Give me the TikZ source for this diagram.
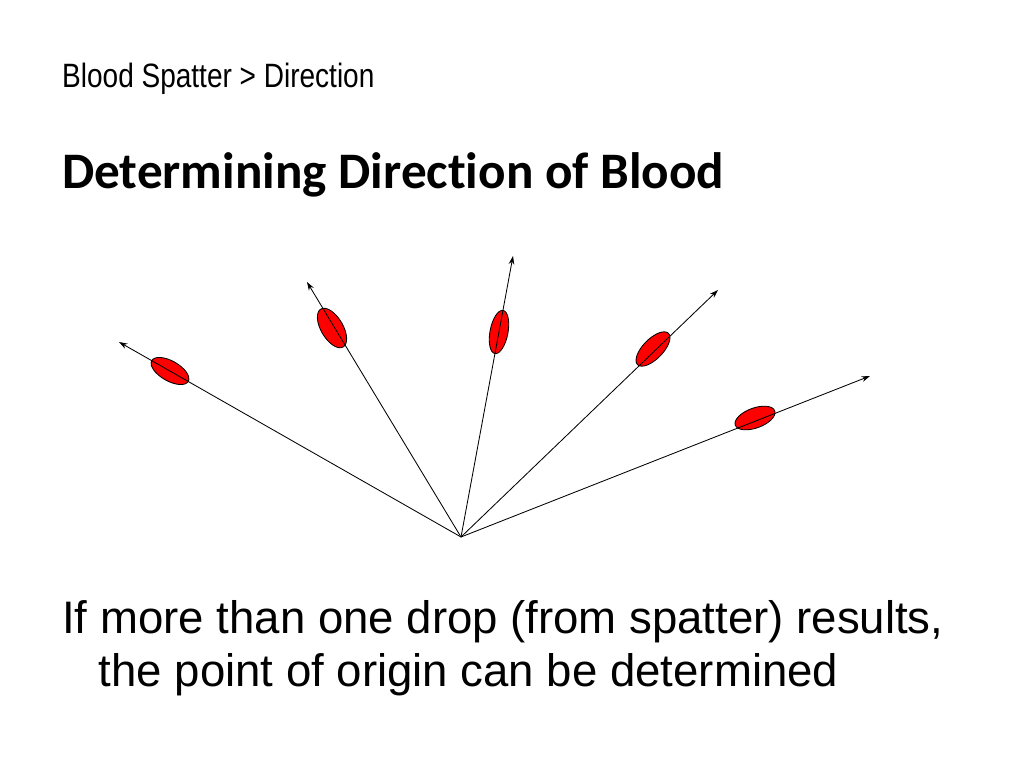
\documentclass[tikz,border=0pt]{standalone}
\usepackage{fontspec}
\setmainfont{Liberation Sans}
\newfontfamily\calibri[Ligatures=CommonOff]{Carlito}
\usetikzlibrary{arrows.meta}
\tikzset{
  ray/.style={semithick, -{Stealth[length=6pt,width=4pt]}},
  drop/.style={draw=black, fill=red, semithick},
}
\begin{document}
\begin{tikzpicture}[x=0.025cm, y=-0.025cm]
        \useasboundingbox (0,0) rectangle (1024,768);
        % header and title
        \node[anchor=west, inner sep=0pt, xscale=0.83, font=\fontsize{24}{26}\selectfont] (head) at (62,79) {Blood Spatter > Direction};
        \node[anchor=west, inner sep=0pt, font=\calibri\bfseries\fontsize{36.4}{40}\selectfont] (title) at (62,175) {Determining Direction of Blood};
        % point of origin and arrow ends
        \coordinate (origin) at (461,537);
        \coordinate (endA) at (119,342);
        \coordinate (endB) at (307,282);
        \coordinate (endC) at (513,256);
        \coordinate (endD) at (718,290);
        \coordinate (endE) at (870,376);
        % drops
        \draw[drop, rotate around={-29.7:(170,371)}] (170,371) ellipse [x radius=21, y radius=10];
        \draw[drop, rotate around={-59.5:(332,328)}] (332,328) ellipse [x radius=22, y radius=11];
        \draw[drop, rotate around={79.2:(499,332)}] (499,332) ellipse [x radius=22, y radius=9];
        \draw[drop, rotate around={45.5:(653,349)}] (653,349) ellipse [x radius=22, y radius=10];
        \draw[drop, rotate around={20:(755,418)}] (755,418) ellipse [x radius=21, y radius=10];
        % rays
        \foreach \e in {endA,endB,endC,endD,endE}
            \draw[ray] (origin) -- (\e);
        % caption
        \node[anchor=north west, inner sep=0pt, align=left, font=\fontsize{32.4}{37.6}\selectfont] (text) at (62,600)
            {If more than one drop (from spatter) results,\\\hspace*{0.8em}the point of origin can be determined};
\end{tikzpicture}
\end{document}
